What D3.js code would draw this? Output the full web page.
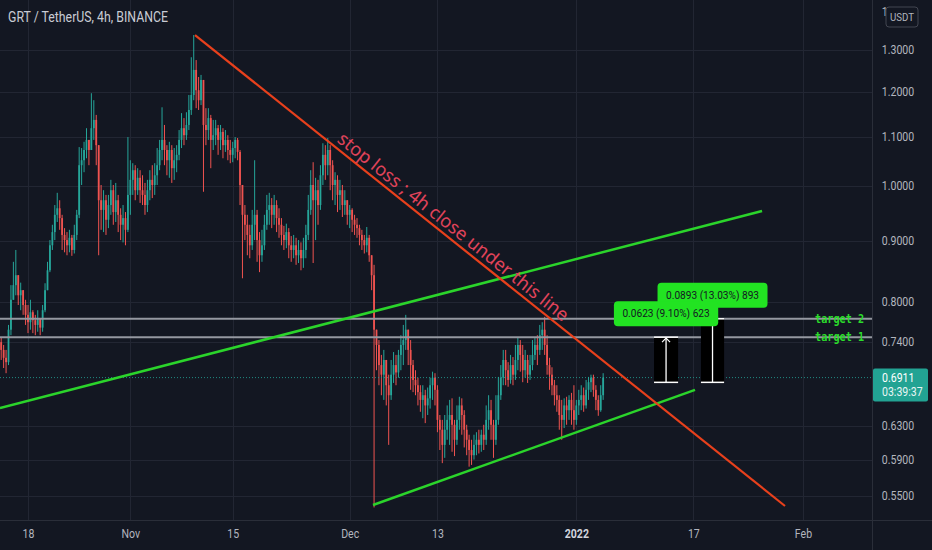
<!DOCTYPE html>
<html><head><meta charset="utf-8">
<script src="https://cdn.jsdelivr.net/npm/d3@7"></script>
<style>body{margin:0;background:#131722;overflow:hidden}svg{display:block}</style>
</head><body><svg id="c" width="932" height="550"></svg>
<script>
// ---------------- DATA ----------------
const title = "GRT / TetherUS, 4h, BINANCE";
const startTime = Date.UTC(2021, 9, 14, 8);   // first candle (UTC)
const stepHours = 8;
const firstOpen = 0.740;
const closes = [
0.729,0.718,0.712,0.758,0.803,0.826,0.842,0.810,0.818,0.795,
0.780,0.769,0.784,0.772,0.765,0.775,0.761,0.787,0.818,0.850,
0.892,0.915,0.946,0.958,0.940,0.910,0.901,0.892,0.905,0.884,
0.910,0.946,1.041,1.051,1.072,1.093,1.072,1.118,1.136,1.082,
0.973,0.955,0.973,0.937,0.964,0.992,0.951,0.973,0.946,0.928,
0.940,0.919,0.983,1.012,1.031,0.992,1.016,0.992,0.983,0.964,
0.992,1.012,1.002,1.021,1.041,1.072,1.093,1.072,1.051,1.072,
1.035,1.051,1.062,1.093,1.118,1.103,1.125,1.158,1.192,1.251,
1.203,1.180,1.227,1.125,1.114,1.140,1.093,1.103,1.118,1.093,
1.110,1.082,1.093,1.072,1.062,1.076,1.093,1.068,1.002,0.946,
0.928,0.910,0.892,0.928,0.946,0.901,0.875,0.892,0.928,0.955,
0.964,0.946,0.964,0.940,0.928,0.910,0.901,0.915,0.892,0.884,
0.892,0.875,0.884,0.870,0.884,0.910,0.955,1.002,0.973,0.992,
0.964,1.021,1.062,1.041,1.072,1.041,1.002,1.012,0.983,0.992,
0.964,0.973,0.946,0.955,0.937,0.928,0.922,0.910,0.901,0.892,
0.905,0.875,0.842,0.758,0.736,0.708,0.695,0.715,0.681,0.668,
0.695,0.708,0.698,0.722,0.736,0.743,0.758,0.729,0.708,0.688,
0.681,0.672,0.662,0.668,0.655,0.664,0.681,0.691,0.675,0.637,
0.625,0.607,0.625,0.637,0.643,0.631,0.613,0.637,0.655,0.643,
0.625,0.613,0.601,0.595,0.607,0.613,0.607,0.619,0.613,0.637,
0.649,0.631,0.613,0.637,0.668,0.691,0.715,0.701,0.688,0.708,
0.695,0.715,0.736,0.722,0.701,0.715,0.695,0.708,0.722,0.736,
0.729,0.750,0.758,0.736,0.708,0.695,0.681,0.668,0.662,0.643,
0.637,0.655,0.649,0.662,0.649,0.637,0.655,0.662,0.668,0.655,
0.675,0.685,0.691,0.675,0.662,0.649,0.668,0.6911];
const highs = [
0.746,0.736,0.729,0.765,0.826,0.864,0.884,0.834,0.830,0.818,
0.803,0.795,0.803,0.787,0.780,0.787,0.775,0.795,0.829,0.864,
0.901,0.928,0.964,0.987,0.973,0.946,0.922,0.915,0.919,0.910,
0.928,0.955,1.078,1.076,1.089,1.118,1.093,1.196,1.180,1.147,
1.012,1.002,0.992,0.983,0.983,1.012,1.002,1.006,0.983,0.958,
0.964,0.951,1.099,1.051,1.045,1.041,1.035,1.031,1.021,1.006,
1.012,1.031,1.041,1.045,1.076,1.093,1.164,1.125,1.082,1.089,
1.082,1.076,1.082,1.114,1.151,1.140,1.153,1.192,1.282,1.338,
1.275,1.234,1.239,1.227,1.162,1.162,1.147,1.136,1.136,1.125,
1.125,1.118,1.114,1.103,1.093,1.089,1.099,1.097,1.072,1.002,
0.964,0.946,0.928,0.955,1.051,0.955,0.915,0.919,0.946,0.983,
0.987,0.977,0.983,0.973,0.958,0.940,0.926,0.930,0.922,0.908,
0.910,0.905,0.901,0.897,0.905,0.928,0.983,1.031,1.047,1.016,
1.012,1.041,1.086,1.082,1.097,1.082,1.051,1.027,1.021,1.012,
1.002,0.992,0.964,0.964,0.958,0.946,0.940,0.928,0.919,0.910,
0.924,0.910,0.875,0.859,0.753,0.743,0.722,0.729,0.708,0.695,
0.715,0.726,0.722,0.729,0.750,0.765,0.780,0.758,0.743,0.715,
0.701,0.691,0.681,0.681,0.675,0.678,0.691,0.699,0.697,0.681,
0.643,0.637,0.643,0.655,0.662,0.664,0.637,0.655,0.666,0.664,
0.649,0.631,0.619,0.613,0.619,0.622,0.625,0.625,0.631,0.655,
0.668,0.662,0.637,0.668,0.692,0.708,0.729,0.729,0.712,0.722,
0.719,0.736,0.747,0.743,0.736,0.729,0.722,0.722,0.743,0.747,
0.750,0.765,0.769,0.777,0.750,0.718,0.705,0.688,0.681,0.668,
0.662,0.664,0.666,0.668,0.671,0.681,0.662,0.675,0.681,0.678,
0.688,0.692,0.695,0.695,0.681,0.668,0.681,0.697];
const lows = [
0.715,0.704,0.697,0.708,0.750,0.803,0.810,0.795,0.787,0.780,
0.765,0.753,0.758,0.753,0.750,0.755,0.750,0.755,0.784,0.818,
0.847,0.884,0.901,0.933,0.919,0.884,0.880,0.875,0.880,0.874,
0.878,0.901,0.940,1.002,1.027,1.055,1.041,1.072,1.093,1.041,
0.875,0.919,0.915,0.910,0.922,0.946,0.928,0.933,0.915,0.901,
0.897,0.892,0.915,0.946,0.983,0.973,0.983,0.968,0.964,0.946,
0.951,0.973,0.977,0.983,1.002,1.031,1.051,1.041,1.021,1.016,
1.006,1.012,1.027,1.051,1.076,1.082,1.093,1.114,1.147,1.180,
1.162,1.158,1.169,0.989,1.082,1.093,1.035,1.072,1.082,1.062,
1.072,1.055,1.068,1.051,1.045,1.047,1.055,1.051,0.964,0.837,
0.901,0.875,0.870,0.884,0.901,0.864,0.847,0.864,0.884,0.919,
0.928,0.922,0.928,0.915,0.905,0.892,0.884,0.887,0.870,0.864,
0.870,0.859,0.862,0.850,0.854,0.870,0.901,0.946,0.862,0.901,
0.928,0.955,1.002,1.012,1.021,0.992,0.973,0.964,0.951,0.955,
0.942,0.946,0.928,0.922,0.915,0.910,0.905,0.892,0.884,0.878,
0.880,0.864,0.818,0.538,0.701,0.681,0.668,0.662,0.655,0.607,
0.662,0.684,0.681,0.691,0.701,0.708,0.729,0.708,0.675,0.672,
0.668,0.655,0.647,0.639,0.633,0.643,0.651,0.662,0.655,0.622,
0.601,0.586,0.592,0.613,0.607,0.599,0.594,0.607,0.625,0.619,
0.604,0.595,0.582,0.584,0.590,0.595,0.597,0.599,0.601,0.607,
0.625,0.613,0.592,0.607,0.631,0.662,0.681,0.681,0.679,0.683,
0.681,0.688,0.701,0.699,0.685,0.691,0.684,0.688,0.701,0.715,
0.708,0.722,0.729,0.722,0.695,0.675,0.668,0.655,0.647,0.625,
0.613,0.627,0.631,0.637,0.631,0.625,0.631,0.643,0.649,0.647,
0.651,0.662,0.672,0.666,0.649,0.642,0.647,0.662];

const priceTicks = [1.4, 1.3, 1.2, 1.1, 1.0, 0.9, 0.8, 0.74, 0.63, 0.59, 0.55];
const dateTicks = ["2021-10-18","2021-11-01","2021-11-15","2021-12-01","2021-12-13","2022-01-01","2022-01-17","2022-02-01"];
const dateLabels = ["18","Nov","15","Dec","13","2022","17","Feb"];
const lastPrice = 0.6911;
const countdown = "03:39:37";
const currency = "USDT";

const resistanceLine = [["2021-11-09T20:10Z", 1.338], ["2022-01-29T13:00Z", 0.5395]];
const supportLower   = [["2021-12-04T04:30Z", 0.5405], ["2022-01-17T05:30Z", 0.675]];
const supportUpper   = [["2021-10-14T04:00Z", 0.6517], ["2022-01-26T09:36Z", 0.953]];
const stopLossText = "stop loss ; 4h close under this line";
const targetNames  = ["target 2", "target 1"];
const targetPrices = [0.7741, 0.7471];
const measureFrom  = ["2022-01-11T15:00Z", "2022-01-18T01:00Z"];
const measureTo    = ["2022-01-14T22:00Z", "2022-01-21T05:00Z"];
const measureBase  = [0.6848, 0.6848];
const measureTop   = [0.7471, 0.7741];
const measureText  = ["0.0623 (9.10%) 623", "0.0893 (13.03%) 893"];

// ---------------- CHART ----------------
const W = 932, H = 550, plotR = 872, plotB = 520, SX = 0.88;
const BG = "#131722", UP = "#26a69a", DOWN = "#ef5350", AXT = "#b2b5be", GRID = "#222633";
const svg = d3.select("#c");
svg.append("rect").attr("width", W).attr("height", H).attr("fill", BG);

const x = d3.scaleUtc().domain([new Date(Date.UTC(2021,9,18)), new Date(Date.UTC(2022,1,1))]).range([28, 803]);
const y = d3.scaleLog().domain([1.3, 0.55]).range([50, 496]);

svg.append("clipPath").attr("id","clip").append("rect").attr("width", plotR).attr("height", plotB);
const plot = svg.append("g").attr("clip-path","url(#clip)");

// grid
plot.append("g").selectAll("line").data(priceTicks.filter(p => y(p) > 30)).join("line")
  .attr("x1",0).attr("x2",plotR).attr("y1",d=>Math.round(y(d))+0.5).attr("y2",d=>Math.round(y(d))+0.5)
  .attr("stroke",GRID).attr("stroke-width",1);
plot.append("g").selectAll("line").data(dateTicks).join("line")
  .attr("y1",0).attr("y2",plotB).attr("x1",d=>Math.round(x(new Date(d)))+0.5).attr("x2",d=>Math.round(x(new Date(d)))+0.5)
  .attr("stroke",GRID).attr("stroke-width",1);

// candles
const candles = closes.map((c,i) => {
  const o = i === 0 ? firstOpen : closes[i-1];
  return {t: new Date(startTime + i*stepHours*3600e3), o, c,
          h: Math.max(highs[i], o, c), l: Math.min(lows[i], o, c)};
});
const cg = plot.append("g");
cg.selectAll("line").data(candles).join("line")
  .attr("x1",d=>x(d.t)).attr("x2",d=>x(d.t)).attr("y1",d=>y(d.h)).attr("y2",d=>y(d.l))
  .attr("stroke",d=>d.c>=d.o?UP:DOWN).attr("stroke-width",1);
cg.selectAll("rect").data(candles).join("rect")
  .attr("x",d=>x(d.t)-0.9).attr("width",1.8)
  .attr("y",d=>y(Math.max(d.o,d.c))).attr("height",d=>Math.max(1, y(Math.min(d.o,d.c))-y(Math.max(d.o,d.c))))
  .attr("fill",d=>d.c>=d.o?UP:DOWN);

// last price dotted line
plot.append("line").attr("x1",0).attr("x2",plotR).attr("y1",y(lastPrice)).attr("y2",y(lastPrice))
  .attr("stroke",UP).attr("stroke-width",1).attr("stroke-dasharray","1,2").attr("opacity",0.8);

// target lines
plot.append("g").selectAll("line").data(targetPrices).join("line")
  .attr("x1",0).attr("x2",plotR).attr("y1",d=>y(d)).attr("y2",d=>y(d))
  .attr("stroke","#9598a1").attr("stroke-width",2);

// trend lines
const pt = d => [x(new Date(d[0])), y(d[1])];
const line = d3.line();
plot.append("path").attr("d", line(supportUpper.map(pt))).attr("stroke","#2bd42b").attr("stroke-width",2.5).attr("fill","none");
plot.append("path").attr("d", line(supportLower.map(pt))).attr("stroke","#2bd42b").attr("stroke-width",2.5).attr("fill","none");
plot.append("path").attr("d", line(resistanceLine.map(pt))).attr("stroke","#e8401c").attr("stroke-width",2.2).attr("fill","none");

// stop loss text along the red line
{
  const [a, b] = resistanceLine.map(pt);
  const ang = Math.atan2(b[1]-a[1], b[0]-a[0]);
  const f = 0.234, off = 5;
  const px = a[0] + (b[0]-a[0])*f + Math.sin(ang)*off;
  const py = a[1] + (b[1]-a[1])*f - Math.cos(ang)*off;
  const t = plot.append("text").text(stopLossText)
    .attr("font-family","Noto Sans, sans-serif").attr("font-size",17).attr("fill","#e0435a")
    .attr("transform",`translate(${px},${py}) rotate(${ang*180/Math.PI})`);
  const len = t.node().getComputedTextLength();
  t.attr("font-size", 17*290/len);
}

// measure boxes
measureText.forEach((txt, i) => {
  const x0 = x(new Date(measureFrom[i])), x1 = x(new Date(measureTo[i]));
  const yb = y(measureBase[i]), yt = y(measureTop[i]);
  const cx = (x0+x1)/2;
  const g = plot.append("g");
  g.append("rect").attr("x",x0).attr("y",yt).attr("width",x1-x0).attr("height",yb-yt).attr("fill","#000");
  g.append("line").attr("x1",x0).attr("x2",x1).attr("y1",yt).attr("y2",yt).attr("stroke","#fff").attr("stroke-width",1.5);
  g.append("line").attr("x1",x0).attr("x2",x1).attr("y1",yb).attr("y2",yb).attr("stroke","#fff").attr("stroke-width",1.5);
  g.append("line").attr("x1",cx).attr("x2",cx).attr("y1",yb).attr("y2",yt+1).attr("stroke","#fff").attr("stroke-width",1.3);
  g.append("path").attr("d",`M${cx-4},${yt+5}L${cx},${yt+1}L${cx+4},${yt+5}`).attr("stroke","#fff").attr("stroke-width",1.2).attr("fill","none");
});
// measure labels (draw second first so the first sits on top)
[1,0].forEach(i => {
  const x0 = x(new Date(measureFrom[i])), x1 = x(new Date(measureTo[i]));
  const cx = (x0+x1)/2, yt = y(measureTop[i]);
  const g = plot.append("g");
  const r = g.append("rect").attr("fill","#22e322").attr("rx",4);
  const t = g.append("text").text(measureText[i]).attr("font-family","Roboto, sans-serif").attr("font-size",11.5)
    .attr("fill","#131722").attr("text-anchor","middle").attr("dominant-baseline","central")
    .attr("transform",`translate(${cx},${yt-23.5}) scale(${SX},1)`);
  const w = t.node().getComputedTextLength()*SX + 17;
  r.attr("x",cx-w/2).attr("width",w).attr("y",yt-36).attr("height",25);
});

// target labels
plot.append("g").selectAll("text").data(targetPrices).join("text")
  .text((d,i)=>targetNames[i])
  .attr("font-family","DejaVu Sans Mono, monospace").attr("font-weight","bold").attr("font-size",12)
  .attr("fill","#2bdc2b").attr("dominant-baseline","central")
  .attr("transform",d=>`translate(815,${y(d)}) scale(0.85,1)`);

// title
svg.append("text").text(title).attr("font-family","Roboto, sans-serif").attr("font-size",14)
  .attr("fill","#c9ccd4").attr("transform",`translate(8,22) scale(${SX},1)`);

// axes frame
svg.append("line").attr("x1",plotR+0.5).attr("x2",plotR+0.5).attr("y1",0).attr("y2",H).attr("stroke","#2a2e39");
svg.append("line").attr("x1",0).attr("x2",W).attr("y1",plotB+0.5).attr("y2",plotB+0.5).attr("stroke","#2a2e39");

// y axis
const ya = svg.append("g").attr("transform",`translate(${plotR+1},0)`)
  .call(d3.axisRight(y).tickValues(priceTicks).tickFormat(d3.format(".4f")).tickSize(0).tickPadding(10));
ya.select(".domain").remove();
ya.selectAll("text").attr("fill",AXT).attr("font-family","Roboto, sans-serif").attr("font-size",12)
  .attr("transform",`scale(${SX},1)`);

// x axis
const xa = svg.append("g").attr("transform",`translate(0,${plotB})`)
  .call(d3.axisBottom(x).tickValues(dateTicks.map(d=>new Date(d))).tickFormat((d,i)=>dateLabels[i]).tickSize(0).tickPadding(9));
xa.select(".domain").remove();
xa.selectAll("text").attr("fill",(d,i)=>dateLabels[i]==="2022"?"#d1d4dc":AXT)
  .attr("font-weight",(d,i)=>dateLabels[i]==="2022"?"bold":null)
  .attr("font-family","Roboto, sans-serif").attr("font-size",12).attr("transform",`scale(${SX},1)`);

// currency badge
svg.append("rect").attr("x",886).attr("y",7).attr("width",32).attr("height",20).attr("rx",3)
  .attr("fill",BG).attr("stroke","#434651");
svg.append("text").text(currency).attr("font-family","Roboto, sans-serif").attr("font-size",11).attr("fill",AXT)
  .attr("text-anchor","middle").attr("dominant-baseline","central").attr("transform",`translate(902,17.5) scale(${SX},1)`);

// last price label
{
  const yp = y(lastPrice);
  svg.append("rect").attr("x",plotR+1).attr("y",yp-9).attr("width",55).attr("height",33).attr("rx",2).attr("fill","#22a393");
  svg.append("text").text(d3.format(".4f")(lastPrice)).attr("font-family","Roboto, sans-serif").attr("font-size",12)
    .attr("fill","#fff").attr("dominant-baseline","central").attr("transform",`translate(882,${yp+0.5}) scale(${SX},1)`);
  svg.append("text").text(countdown).attr("font-family","Roboto, sans-serif").attr("font-size",12)
    .attr("fill","#e8f5f3").attr("dominant-baseline","central").attr("transform",`translate(882,${yp+15}) scale(${SX},1)`);
}
</script>
</body></html>
